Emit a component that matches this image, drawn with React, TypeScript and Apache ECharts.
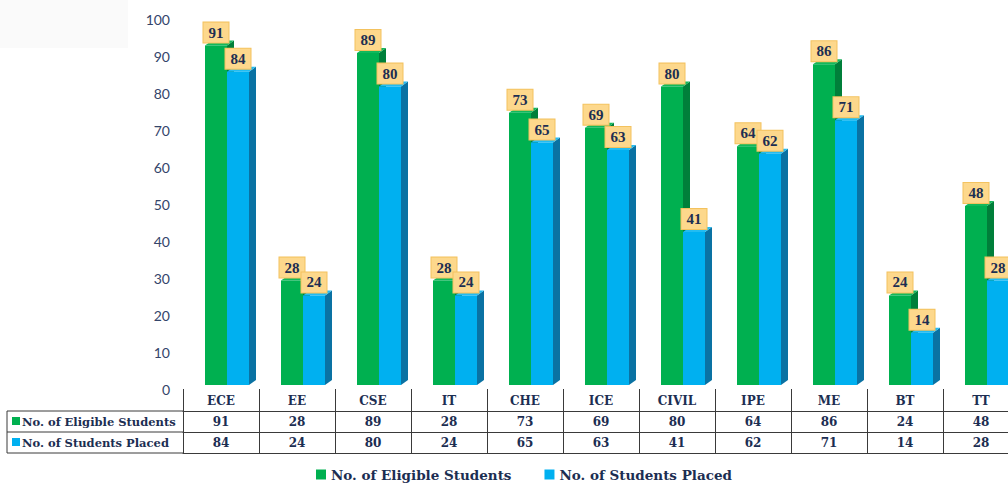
import React, { useEffect, useRef } from "react";
import * as echarts from "echarts";

const categories = ["ECE", "EE", "CSE", "IT", "CHE", "ICE", "CIVIL", "IPE", "ME", "BT", "TT"];
const eligible = [91, 28, 89, 28, 73, 69, 80, 64, 86, 24, 48];
const placed = [84, 24, 80, 24, 65, 63, 41, 62, 71, 14, 28];
const seriesNames = ["No. of Eligible Students", "No. of Students Placed"];
const yTicks = { min: 0, max: 100, interval: 10 };

const NAVY = "#1C2E52";
const SERIF = "'Liberation Serif', 'DejaVu Serif', serif";
const WIDE_SERIF = "'DejaVu Serif', 'Liberation Serif', serif";

const palette = [
  { front: "#00B050", side: "#007F3A", top: "#12B85C" },
  { front: "#00B0F0", side: "#0A72A3", top: "#22BCF2" },
];

function makeRender(si: number) {
  const c = palette[si];
  return (params: any, api: any) => {
    const idx = api.value(0);
    const v = api.value(1);
    const topPt = api.coord([idx, v]);
    const basePt = api.coord([idx, 0]);
    const bw = api.size([1, 0])[0];
    const w = (bw * 22) / 76;
    const x0 = basePt[0] + (bw * (si === 0 ? -16 : 6)) / 76;
    const x1 = x0 + w;
    const dx = 7;
    const dy = 5;
    const yT = topPt[1];
    const yB = basePt[1];
    return {
      type: "group",
      children: [
        {
          type: "polygon",
          shape: { points: [[x1, yB], [x1 + dx, yB - dy], [x1 + dx, yT - dy], [x1, yT]] },
          style: { fill: c.side },
        },
        {
          type: "polygon",
          shape: { points: [[x0, yT], [x0 + dx, yT - dy], [x1 + dx, yT - dy], [x1, yT]] },
          style: { fill: c.top },
        },
        {
          type: "rect",
          shape: { x: x0, y: yT, width: w, height: yB - yT },
          style: { fill: c.front },
        },
        {
          type: "text",
          x: (x0 + x1) / 2,
          y: yT - 3,
          z2: 20,
          style: {
            text: String(v),
            align: "center",
            verticalAlign: "bottom",
            fill: NAVY,
            fontFamily: SERIF,
            fontWeight: "bold",
            fontSize: 15,
            lineHeight: 16,
            backgroundColor: "#FDD88C",
            borderColor: "#F3C25E",
            borderWidth: 1,
            padding: [2, 5, 2, 5],
          },
        },
      ],
    };
  };
}

export default function App() {
  const ref = useRef<HTMLDivElement>(null);
  useEffect(() => {
    if (!ref.current) return;
    const chart = echarts.init(ref.current, null, { renderer: "svg" });
    const tableFont = {
      fontFamily: WIDE_SERIF,
      fontWeight: "bold" as const,
      fontSize: 12,
      color: NAVY,
      lineHeight: 15,
    };
    const tableAxisBase = {
      type: "category" as const,
      gridIndex: 1,
      position: "bottom" as const,
      data: categories,
      axisTick: { show: false },
      splitLine: { show: false },
    };
    const option: any = {
      animation: false,
      backgroundColor: "#FFFFFF",
      grid: [
        { left: 183, width: 836, top: 12, height: 373, outerBoundsMode: "none", containLabel: false },
        { left: 183, width: 836, top: 19, height: 370, outerBoundsMode: "none", containLabel: false },
      ],
      xAxis: [
        {
          type: "category",
          gridIndex: 0,
          data: categories,
          show: false,
        },
        {
          ...tableAxisBase,
          offset: 0,
          axisLine: { show: false },
          axisTick: {
            show: true,
            interval: 0,
            length: 64,
            lineStyle: { color: "#3A3A3A", width: 1 },
          },
          axisLabel: { ...tableFont, interval: 0, margin: 4 },
        },
        {
          ...tableAxisBase,
          data: eligible.map(String),
          offset: 22,
          axisLine: { show: true, lineStyle: { color: "#3A3A3A", width: 1 } },
          axisLabel: { ...tableFont, interval: 0, margin: 3 },
        },
        {
          ...tableAxisBase,
          data: placed.map(String),
          offset: 43,
          axisLine: { show: true, lineStyle: { color: "#3A3A3A", width: 1 } },
          axisLabel: { ...tableFont, interval: 0, margin: 3 },
        },
        {
          ...tableAxisBase,
          offset: 64,
          axisLine: { show: true, lineStyle: { color: "#3A3A3A", width: 1 } },
          axisLabel: { show: false },
        },
      ],
      yAxis: [
        {
          type: "value",
          gridIndex: 0,
          min: yTicks.min,
          max: yTicks.max,
          interval: yTicks.interval,
          show: false,
        },
        {
          type: "value",
          gridIndex: 1,
          min: yTicks.min,
          max: yTicks.max,
          interval: yTicks.interval,
          axisLine: { show: false },
          axisTick: { show: false },
          splitLine: { show: false },
          axisLabel: {
            margin: 13,
            color: "#34456A",
            fontFamily: "Lato, 'Open Sans', sans-serif",
            fontSize: 14,
          },
        },
      ],
      legend: {
        data: seriesNames,
        left: 311,
        top: 461,
        icon: "rect",
        itemWidth: 10,
        itemHeight: 10,
        itemGap: 33,
        textStyle: {
          fontFamily: WIDE_SERIF,
          fontWeight: "bold",
          fontSize: 13.5,
          lineHeight: 17,
          color: NAVY,
        },
      },
      graphic: [
        {
          type: "rect",
          shape: { x: 0, y: 0, width: 128, height: 48 },
          style: { fill: "#FAFAFA" },
          silent: true,
        },
        {
          type: "group",
          children: [
            { type: "line", shape: { x1: 7, y1: 411, x2: 183, y2: 411 }, style: { stroke: "#3A3A3A", lineWidth: 1 } },
            { type: "line", shape: { x1: 7, y1: 432, x2: 183, y2: 432 }, style: { stroke: "#3A3A3A", lineWidth: 1 } },
            { type: "line", shape: { x1: 7, y1: 453, x2: 183, y2: 453 }, style: { stroke: "#3A3A3A", lineWidth: 1 } },
            { type: "line", shape: { x1: 7, y1: 411, x2: 7, y2: 453 }, style: { stroke: "#3A3A3A", lineWidth: 1 } },
            { type: "rect", shape: { x: 12, y: 417, width: 8, height: 8 }, style: { fill: palette[0].front } },
            { type: "rect", shape: { x: 12, y: 438, width: 8, height: 8 }, style: { fill: palette[1].front } },
            {
              type: "text",
              x: 22,
              y: 421.5,
              style: {
                text: seriesNames[0],
                fill: NAVY,
                fontFamily: WIDE_SERIF,
                fontWeight: "bold",
                fontSize: 11.5,
                verticalAlign: "middle",
                align: "left",
              },
            },
            {
              type: "text",
              x: 22,
              y: 442.5,
              style: {
                text: seriesNames[1],
                fill: NAVY,
                fontFamily: WIDE_SERIF,
                fontWeight: "bold",
                fontSize: 11.5,
                verticalAlign: "middle",
                align: "left",
              },
            },
          ],
        },
      ],
      series: [
        {
          name: seriesNames[0],
          type: "custom",
          xAxisIndex: 0,
          yAxisIndex: 0,
          itemStyle: { color: palette[0].front },
          encode: { x: 0, y: 1 },
          data: eligible.map((v, i) => [i, v]),
          renderItem: makeRender(0),
        },
        {
          name: seriesNames[1],
          type: "custom",
          xAxisIndex: 0,
          yAxisIndex: 0,
          itemStyle: { color: palette[1].front },
          encode: { x: 0, y: 1 },
          data: placed.map((v, i) => [i, v]),
          renderItem: makeRender(1),
        },
      ],
    };
    chart.setOption(option);
    return () => chart.dispose();
  }, []);
  return (
    <div
      ref={ref}
      style={{ position: "absolute", left: 0, top: 0, width: 1008, height: 486 }}
    />
  );
}
